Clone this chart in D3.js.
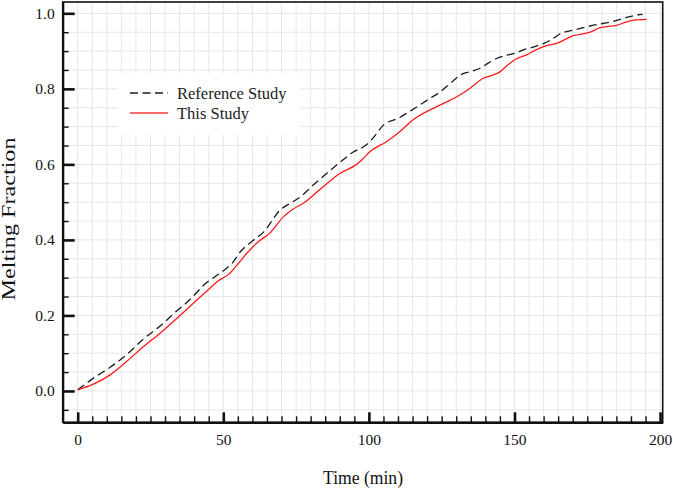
<!DOCTYPE html>
<html><head><meta charset="utf-8">
<script src="https://cdn.jsdelivr.net/npm/d3@7"></script>
<style>body{margin:0;background:#fff}svg{display:block}</style>
</head><body>
<svg id="chart" width="673" height="488"></svg>
<script>
const refTime = [0,5.4,11,16.8,22.5,28.3,34,38,44,47,51,53,56,60,64,69.5,73,76.5,81,85.5,90,94.5,99,102,105,110,115,121,124.5,128,131.5,135,138,141,144,147,150,153,157,160,163,166,170,174,178,183,188.5,191,194];
const refVal  = [0.003,0.034,0.062,0.096,0.137,0.172,0.212,0.238,0.285,0.302,0.324,0.338,0.370,0.397,0.422,0.479,0.497,0.514,0.546,0.576,0.605,0.632,0.651,0.675,0.704,0.722,0.745,0.775,0.792,0.815,0.837,0.846,0.854,0.868,0.881,0.888,0.894,0.903,0.912,0.920,0.932,0.947,0.955,0.963,0.970,0.977,0.989,0.994,0.997];
const thisTime = [0,5.4,11,16.8,22.5,28.3,34,39.7,45.4,48,52,55,58,62,66,70.6,74,77.5,84.3,90,95.8,98,100.4,106,110.7,115.2,123.3,130.2,135,139.3,142,145,148,150.5,154.2,157,160,165,170,176,179.4,182,185,188,191,195.4];
const thisVal  = [0.003,0.018,0.042,0.078,0.117,0.153,0.192,0.232,0.272,0.290,0.310,0.336,0.364,0.395,0.418,0.461,0.482,0.497,0.541,0.576,0.600,0.615,0.634,0.660,0.687,0.718,0.753,0.779,0.803,0.828,0.835,0.845,0.865,0.879,0.890,0.902,0.912,0.922,0.940,0.950,0.962,0.965,0.968,0.976,0.982,0.984];
const xTicks = [0,50,100,150,200];
const yTicks = [0.0,0.2,0.4,0.6,0.8,1.0];
const seriesNames = ["Reference Study","This Study"];

const svg = d3.select("#chart");
const L = 62.7, R = 662.7, T = 2, B = 422.3;
const x = d3.scaleLinear().domain([-5.15, 200.9]).range([L, R]);
const y = d3.scaleLinear().domain([-0.083, 1.03]).range([B, T]);
const serif = "'Liberation Serif','Times New Roman',serif";

const xMinor = d3.range(0, 201, 5);
const yMinor = d3.range(-0.05, 1.03, 0.05).map(v => +v.toFixed(2));

// grid
const grid = svg.append("g");
grid.selectAll(".gx").data(xMinor).join("line")
  .attr("x1", d => x(d)).attr("x2", d => x(d)).attr("y1", T).attr("y2", B)
  .attr("stroke", "#e6e6e6").attr("stroke-width", 1);
grid.selectAll(".gy").data(yMinor).join("line")
  .attr("y1", d => y(d)).attr("y2", d => y(d)).attr("x1", L).attr("x2", R)
  .attr("stroke", "#e6e6e6").attr("stroke-width", 1);

// lines
const lineGen = d3.line().x(d => x(d[0])).y(d => y(d[1])).curve(d3.curveMonotoneX);
svg.append("path").datum(refTime.map((t,i) => [t, refVal[i]]))
  .attr("d", lineGen).attr("fill", "none").attr("stroke", "#1a1a1a")
  .attr("stroke-width", 1.3).attr("stroke-dasharray", "8,4.5");
svg.append("path").datum(thisTime.map((t,i) => [t, thisVal[i]]))
  .attr("d", lineGen).attr("fill", "none").attr("stroke", "#ff1a1a")
  .attr("stroke-width", 1.3);

// frame
svg.append("rect").attr("x", L).attr("y", T).attr("width", R - L).attr("height", B - T)
  .attr("fill", "none").attr("stroke", "#111").attr("stroke-width", 1.6);

// axes
const yAxis = svg.append("g").attr("transform", `translate(${L},0)`)
  .call(d3.axisLeft(y).tickValues(yTicks).tickFormat(d3.format(".1f")).tickSizeInner(-12).tickSizeOuter(0).tickPadding(8));
const yMinAxis = svg.append("g").attr("transform", `translate(${L},0)`)
  .call(d3.axisLeft(y).tickValues(yMinor.filter(v => !yTicks.some(t => Math.abs(t - v) < 1e-6))).tickFormat("").tickSizeInner(-6).tickSizeOuter(0));
const xAxis = svg.append("g").attr("transform", `translate(0,${B})`)
  .call(d3.axisBottom(x).tickValues(xTicks).tickFormat(d3.format("d")).tickSizeInner(-10).tickSizeOuter(0).tickPadding(12));
const xMinAxis = svg.append("g").attr("transform", `translate(0,${B})`)
  .call(d3.axisBottom(x).tickValues(xMinor.filter(v => v % 50 !== 0)).tickFormat("").tickSizeInner(-6).tickSizeOuter(0));

[yAxis, xAxis].forEach(g => {
  g.selectAll(".domain").attr("stroke", "#111").attr("stroke-width", 2.2);
  g.selectAll(".tick line").attr("stroke", "#111").attr("stroke-width", 2.6);
  g.selectAll(".tick text").attr("font-family", serif).attr("font-size", 15.5).attr("fill", "#111");
});
[yMinAxis, xMinAxis].forEach(g => {
  g.selectAll(".domain").remove();
  g.selectAll(".tick line").attr("stroke", "#111").attr("stroke-width", 1.4);
});

// axis titles
svg.append("text").attr("x", 363).attr("y", 484).attr("text-anchor", "middle")
  .attr("font-family", serif).attr("font-size", 19).attr("fill", "#111")
  .attr("textLength", 80).attr("lengthAdjust", "spacingAndGlyphs").text("Time (min)");
svg.append("text").attr("transform", "translate(15,219) rotate(-90)").attr("text-anchor", "middle")
  .attr("font-family", serif).attr("font-size", 18).attr("fill", "#111")
  .attr("textLength", 163).attr("lengthAdjust", "spacingAndGlyphs").text("Melting Fraction");

// legend
const lg = svg.append("g");
lg.append("rect").attr("x", 118).attr("y", 73).attr("width", 182).attr("height", 62).attr("fill", "#fff");
const legendItems = [
  {name: seriesNames[0], color: "#555", dash: "8,4.5", y: 93},
  {name: seriesNames[1], color: "#ff6b6b", dash: null, y: 113}
];
legendItems.forEach(it => {
  lg.append("line").attr("x1", 130).attr("x2", 168).attr("y1", it.y).attr("y2", it.y)
    .attr("stroke", it.color).attr("stroke-width", 2).attr("stroke-dasharray", it.dash);
  lg.append("text").attr("x", 177).attr("y", it.y + 5.5).attr("font-family", serif)
    .attr("font-size", 16.5).attr("fill", "#222").text(it.name);
});
</script>
</body></html>
